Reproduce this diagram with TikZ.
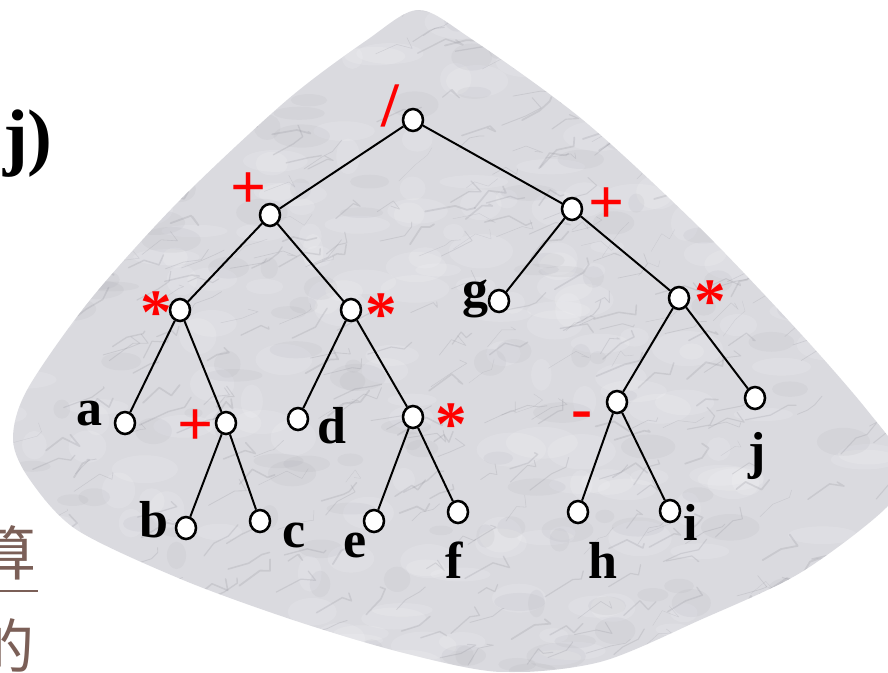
\documentclass[tikz,border=0pt]{standalone}
\usepackage{fontspec}
\setmainfont{Liberation Serif}
\newfontfamily\cjkfont{Noto Sans CJK SC}
\usetikzlibrary{shapes.geometric}
\definecolor{marble}{HTML}{DADADF}
\definecolor{vein}{HTML}{85858E}
\definecolor{opred}{HTML}{FF0000}
\definecolor{chbrown}{HTML}{7B5F57}

\tikzset{
  vx/.style={draw, ellipse, fill=white, line width=1.8pt, minimum width=0.5cm, minimum height=0.55cm, inner sep=0pt},
  leaf/.style={anchor=base, inner sep=0pt, font=\fontsize{37}{37}\selectfont\bfseries},
  op/.style={anchor=base, inner sep=0pt, text=opred, font=\fontsize{45}{45}\selectfont\bfseries},
  edge/.style={line width=1.4pt},
  cjktext/.style={anchor=east, inner sep=0pt, text=chbrown, font=\fontsize{42}{42}\cjkfont},
}

\begin{document}
\begin{tikzpicture}[x=0.025cm, y=-0.025cm]
  \useasboundingbox (0,0) rectangle (888,672);
  \begin{scope}
  \clip (0,0) rectangle (888,672);

  % marble slab
  \begin{scope}
    \clip plot[smooth cycle] coordinates {(418,10) (470,38) (583,120) (700,228) (800,333) (867,410) (905,465)
      (887,507) (800,573) (700,620) (600,662) (500,672) (400,652) (293,620) (183,580) (77,530) (30,480)
      (13,440) (27,390) (90,300) (180,200) (287,100) (367,40)};
    \fill[marble] (0,0) rectangle (888,672);
    \pgfmathsetseed{42}
    \foreach \k in {1,...,220}{
      \fill[white, opacity=.13] (rnd*888, rnd*672) ellipse ({10+rnd*26} and {6+rnd*12});
    }
    \foreach \k in {1,...,160}{
      \fill[vein, opacity=.07] (rnd*888, rnd*672) ellipse ({8+rnd*22} and {4+rnd*10});
    }
    \foreach \k in {1,...,420}{
      \pgfmathsetmacro\lw{0.2+rnd*1.1}
      \draw[vein, opacity=.2, line width=\lw pt, line cap=round, line join=round]
        (rnd*888, rnd*672) -- ++(8+rnd*22, -4-rnd*14) -- ++(4+rnd*14, rand*10) -- ++(rand*10, -rnd*12);
    }
  \end{scope}

  \node[vx] (root) at (413,120) {};
  \node[vx] (pl) at (270,215) {};
  \node[vx] (pr) at (572,209) {};
  \node[vx] (ml) at (180,310) {};
  \node[vx] (mm) at (351,310) {};
  \node[vx] (g) at (499,301) {};
  \node[vx] (mr) at (679,298) {};
  \node[vx] (a) at (125,423) {};
  \node[vx] (pu) at (226,423) {};
  \node[vx] (d) at (298,419) {};
  \node[vx] (mu) at (413,417) {};
  \node[vx] (sub) at (617,402) {};
  \node[vx] (j) at (755,398) {};
  \node[vx] (b) at (186,528) {};
  \node[vx] (c) at (260,521) {};
  \node[vx] (e) at (374,521) {};
  \node[vx] (f) at (458,512) {};
  \node[vx] (h) at (578,512) {};
  \node[vx] (i) at (670,511) {};

  \foreach \u/\v in {root/pl, root/pr, pl/ml, pl/mm, ml/a, ml/pu, pu/b, pu/c, mm/d, mm/mu,
                     mu/e, mu/f, pr/g, pr/mr, mr/sub, mr/j, sub/h, sub/i}
    \draw[edge] (\u) -- (\v);

  \node[op] (oroot) at (390,126) {/};
  \node[op] (opl) at (249,208) {+};
  \node[op] (opr) at (607,223) {+};
  \node[op] (oml) at (156,333) {*};
  \node[op] (omm) at (381,335) {*};
  \node[op] (omr) at (710,322) {*};
  \node[op] (opu) at (196,445) {+};
  \node[op] (omu) at (451,445) {*};
  \node[op] (osub) at (582,429) {-};

  \node[leaf] (la) at (90,425) {a};
  \node[leaf] (lb) at (154,537) {b};
  \node[leaf] (lc) at (294,547) {c};
  \node[leaf] (ld) at (332,443) {d};
  \node[leaf] (le) at (355,557) {e};
  \node[leaf] (lf) at (454,578) {f};
  \node[leaf] (lg) at (476,306) {g};
  \node[leaf] (lh) at (603,578) {h};
  \node[leaf] (li) at (691,540) {i};
  \node[leaf] (lj) at (757,468) {j};

  \node[anchor=base east, inner sep=0pt, font=\fontsize{53}{53}\selectfont\bfseries] (tag) at (53,161) {j)};

  \node[cjktext] (suan) at (37,553) {算};
  \draw[chbrown, line width=1.3pt] (0,591) -- (38,591);
  \node[cjktext] (de) at (35,645) {的};
  \end{scope}
\end{tikzpicture}
\end{document}
